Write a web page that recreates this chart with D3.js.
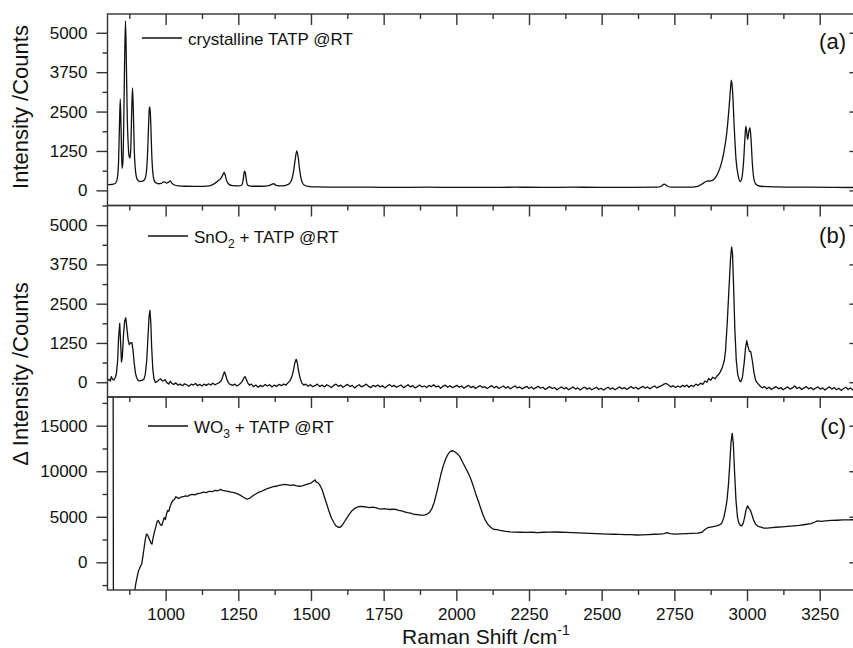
<!DOCTYPE html>
<html>
<head>
<meta charset="utf-8">
<script src="https://cdn.jsdelivr.net/npm/d3@7"></script>
<style>
  body { margin: 0; background: #fff; }
  text { font-family: "Liberation Sans", Arial, sans-serif; fill: #111; }
</style>
</head>
<body>
<div id="chart"></div>
<script>
// Raman spectra: [Raman shift (cm-1), counts]
var crystalTATP = [
  [800,180],[810,185],[820,195],[828,230],[834,400],[838,900],[841,2000],[844,2900],[847,1800],[850,700],
  [853,900],[856,2200],[859,4200],[862,5380],[865,4000],[868,2300],[871,1500],[874,1100],[877,1020],[880,1300],
  [883,2400],[886,3250],[889,2500],[892,1300],[896,650],[900,400],[905,310],[912,280],[920,290],[928,350],
  [934,600],[938,1200],[941,2000],[944,2600],[946,2650],[949,2100],[952,1200],[956,550],[960,330],[966,240],
  [975,210],[985,220],[993,270],[998,260],[1003,230],[1010,260],[1016,300],[1022,220],[1030,170],[1045,140],
  [1070,130],[1100,125],[1130,125],[1150,140],[1165,200],[1180,300],[1190,380],[1197,500],[1201,570],[1205,480],
  [1210,300],[1218,190],[1230,150],[1250,140],[1262,170],[1267,350],[1271,610],[1274,560],[1278,300],[1283,160],
  [1300,130],[1330,130],[1355,150],[1365,190],[1372,210],[1380,160],[1400,140],[1420,180],[1432,300],[1440,600],
  [1446,1000],[1451,1250],[1456,1050],[1461,650],[1467,330],[1475,180],[1490,130],[1520,110],[1600,100],[1700,100],
  [1800,95],[1900,100],[2000,95],[2100,95],[2200,100],[2300,95],[2400,100],[2500,95],[2600,95],[2690,100],
  [2705,130],[2715,200],[2725,140],[2740,100],[2800,100],[2830,130],[2850,230],[2862,295],[2875,300],[2890,390],
  [2900,550],[2910,800],[2920,1200],[2930,1800],[2938,2600],[2943,3200],[2946,3500],[2950,3200],[2955,2200],[2962,1000],
  [2970,450],[2976,280],[2982,380],[2988,900],[2993,1700],[2996,2040],[3000,1750],[3002,1620],[3006,1850],[3010,1990],
  [3014,1600],[3018,900],[3023,400],[3030,200],[3045,130],[3100,110],[3200,100],[3300,95],[3390,90]
];

var sno2TATP = [
  [800,60],[805,90],[810,40],[813,180],[817,100],[822,70],[827,150],[831,300],[835,700],[838,1400],
  [842,1870],[845,1300],[848,650],[851,800],[855,1500],[859,1950],[863,2050],[867,1700],[871,1350],[875,1200],
  [879,1250],[884,1260],[888,1000],[892,600],[896,300],[900,150],[905,60],[910,40],[918,60],[925,90],
  [930,250],[935,700],[939,1400],[943,2100],[946,2290],[949,1900],[952,1100],[956,400],[960,100],[965,-10],
  [970,20],[977,80],[983,110],[988,40],[993,50],[998,80],[1004,-10],[1010,-60],[1016,30],[1022,-40],
  [1028,-70],[1035,-20],[1042,-90],[1050,-60],[1058,-110],[1065,-50],[1072,-80],[1080,-130],[1088,-60],[1095,-90],
  [1103,-40],[1110,-110],[1118,-70],[1125,-120],[1132,-60],[1140,-100],[1148,-50],[1155,-90],[1162,-30],[1170,-80],
  [1178,-40],[1185,-10],[1192,60],[1197,200],[1202,330],[1206,250],[1210,100],[1216,-20],[1222,-70],[1230,-100],
  [1238,-60],[1245,-120],[1252,-80],[1258,-30],[1263,20],[1268,120],[1273,180],[1277,100],[1282,-10],[1288,-90],
  [1295,-60],[1302,-140],[1310,-90],[1318,-160],[1326,-100],[1334,-140],[1342,-70],[1350,-120],[1358,-80],[1366,-150],
  [1374,-90],[1382,-130],[1390,-70],[1398,-110],[1406,-60],[1414,-90],[1420,-30],[1428,50],[1435,200],[1440,400],
  [1445,640],[1449,730],[1453,620],[1457,380],[1462,150],[1468,-20],[1475,-90],[1482,-60],[1490,-130],[1498,-80],
  [1506,-140],[1514,-110],[1522,-60],[1530,-140],[1538,-90],[1546,-150],[1554,-80],[1562,-120],[1570,-170],[1578,-100],
  [1586,-60],[1594,-130],[1602,-90],[1610,-160],[1618,-110],[1626,-70],[1634,-140],[1642,-100],[1650,-180],[1658,-120],
  [1666,-80],[1674,-150],[1682,-110],[1690,-60],[1698,-130],[1706,-170],[1714,-100],[1722,-140],[1730,-90],[1738,-150],
  [1746,-110],[1754,-180],[1762,-120],[1770,-70],[1778,-140],[1786,-100],[1794,-160],[1802,-120],[1810,-90],[1818,-170],
  [1826,-130],[1834,-80],[1842,-150],[1850,-110],[1858,-180],[1866,-140],[1874,-90],[1882,-150],[1890,-120],[1898,-170],
  [1906,-100],[1914,-140],[1922,-80],[1930,-150],[1938,-120],[1946,-190],[1954,-130],[1962,-90],[1970,-160],[1978,-110],
  [1986,-170],[1994,-140],[2002,-100],[2010,-160],[2018,-120],[2026,-190],[2034,-140],[2042,-100],[2050,-170],[2058,-130],
  [2066,-200],[2074,-150],[2082,-110],[2090,-170],[2098,-140],[2106,-200],[2114,-150],[2122,-110],[2130,-180],[2138,-130],
  [2146,-200],[2154,-160],[2162,-120],[2170,-190],[2178,-140],[2186,-210],[2194,-160],[2202,-120],[2210,-180],[2218,-150],
  [2226,-210],[2234,-170],[2242,-130],[2250,-200],[2258,-150],[2266,-220],[2274,-170],[2282,-130],[2290,-190],[2298,-160],
  [2306,-230],[2314,-180],[2322,-140],[2330,-200],[2338,-170],[2346,-240],[2354,-190],[2362,-150],[2370,-210],[2378,-170],
  [2386,-240],[2394,-190],[2402,-150],[2410,-220],[2418,-180],[2426,-250],[2434,-190],[2442,-160],[2450,-220],[2458,-180],
  [2466,-240],[2474,-200],[2482,-160],[2490,-230],[2498,-190],[2506,-250],[2514,-200],[2522,-160],[2530,-220],[2538,-180],
  [2546,-240],[2554,-190],[2562,-150],[2570,-210],[2578,-170],[2586,-230],[2594,-180],[2602,-140],[2610,-200],[2618,-160],
  [2626,-220],[2634,-170],[2642,-130],[2650,-190],[2658,-150],[2666,-210],[2674,-160],[2682,-120],[2690,-180],[2698,-140],
  [2706,-110],[2714,-60],[2722,-40],[2730,-90],[2738,-150],[2746,-110],[2754,-170],[2762,-120],[2770,-160],[2778,-100],
  [2786,-140],[2794,-90],[2800,-160],[2808,-100],[2816,-140],[2824,-60],[2832,-100],[2840,-30],[2848,-70],[2855,40],
  [2862,0],[2868,120],[2875,60],[2882,160],[2890,110],[2897,200],[2905,280],[2912,400],[2918,560],[2922,700],
  [2926,1000],[2932,1900],[2938,3000],[2943,3900],[2947,4300],[2950,4100],[2954,3000],[2958,1700],[2963,700],[2968,250],
  [2974,50],[2979,20],[2984,150],[2990,600],[2995,1100],[2999,1320],[3003,1150],[3008,980],[3013,970],[3018,700],
  [3024,300],[3030,50],[3036,-30],[3045,-120],[3052,-180],[3060,-140],[3068,-210],[3076,-160],[3084,-230],[3092,-180],
  [3100,-140],[3108,-210],[3116,-170],[3124,-240],[3132,-190],[3140,-150],[3148,-220],[3156,-180],[3164,-120],[3172,-200],
  [3180,-160],[3188,-230],[3196,-180],[3204,-140],[3212,-210],[3220,-170],[3228,-240],[3236,-190],[3244,-150],[3252,-220],
  [3260,-180],[3268,-250],[3276,-190],[3284,-150],[3292,-220],[3300,-170],[3308,-240],[3316,-190],[3324,-260],[3332,-200],
  [3340,-160],[3348,-230],[3356,-180],[3364,-250],[3372,-190],[3380,-150],[3390,-210]
];

var wo3TATP = [
  [819,30000],[821,-20000],[885,-20000],[893,-3300],[897,-2400],[902,-1600],[907,-900],[910,-700],[914,-400],[918,-150],
  [922,700],[926,1600],[930,2500],[934,3100],[938,3000],[942,2700],[946,2400],[950,2100],[953,2000],[957,2700],
  [962,3400],[967,4000],[971,4500],[975,4600],[979,4300],[983,4100],[987,4050],[991,4500],[995,4900],[999,4700],
  [1003,5300],[1007,5700],[1011,5600],[1015,6100],[1020,6500],[1025,6800],[1030,6900],[1035,7200],[1040,7100],[1045,7000],
  [1052,7150],[1060,7200],[1068,7300],[1076,7250],[1084,7400],[1092,7450],[1100,7400],[1110,7550],[1120,7600],[1130,7700],
  [1140,7650],[1150,7800],[1160,7750],[1170,7900],[1180,7850],[1188,8000],[1196,7900],[1205,7850],[1215,7800],[1225,7700],
  [1235,7650],[1245,7550],[1255,7400],[1265,7200],[1275,7000],[1282,6950],[1290,7050],[1300,7300],[1310,7500],[1320,7700],
  [1330,7800],[1340,7950],[1350,8100],[1360,8200],[1370,8300],[1380,8350],[1390,8450],[1400,8500],[1410,8550],[1420,8500],
  [1430,8450],[1440,8500],[1450,8400],[1460,8350],[1470,8400],[1480,8500],[1490,8600],[1500,8700],[1508,8900],[1514,9050],
  [1518,8800],[1524,8750],[1530,8500],[1538,8000],[1546,7200],[1554,6400],[1562,5600],[1570,4900],[1578,4400],[1586,4000],
  [1594,3850],[1600,3850],[1606,4000],[1614,4400],[1622,4800],[1632,5300],[1642,5700],[1652,5950],[1662,6100],[1672,6150],
  [1682,6100],[1692,6050],[1702,6000],[1712,6050],[1722,6000],[1732,5900],[1742,5850],[1752,5900],[1762,5850],[1772,5800],
  [1782,5850],[1792,5800],[1802,5700],[1812,5650],[1822,5550],[1832,5450],[1842,5400],[1852,5300],[1862,5250],[1872,5200],
  [1882,5150],[1892,5200],[1900,5300],[1908,5500],[1916,5900],[1924,6600],[1932,7600],[1940,8700],[1948,9800],[1956,10700],
  [1964,11400],[1972,11900],[1980,12200],[1988,12250],[1996,12100],[2004,11900],[2012,11600],[2020,11100],[2028,10600],[2036,10100],
  [2044,9600],[2052,8950],[2060,8200],[2068,7400],[2076,6700],[2084,5900],[2092,5200],[2100,4600],[2108,4200],[2116,3900],
  [2124,3700],[2132,3600],[2140,3580],[2150,3500],[2160,3450],[2170,3400],[2185,3350],[2200,3320],[2220,3300],[2240,3280],
  [2260,3300],[2280,3270],[2300,3300],[2320,3320],[2340,3330],[2360,3300],[2380,3280],[2400,3250],[2420,3230],[2440,3200],
  [2460,3180],[2480,3150],[2500,3120],[2520,3100],[2540,3080],[2560,3060],[2580,3050],[2600,3030],[2620,3000],[2640,3020],
  [2660,3050],[2680,3080],[2700,3100],[2715,3150],[2725,3250],[2735,3150],[2750,3100],[2770,3120],[2790,3150],[2810,3170],
  [2830,3200],[2845,3300],[2855,3600],[2865,3800],[2880,3900],[2895,4000],[2905,4100],[2913,4300],[2920,4900],[2926,5800],
  [2931,6800],[2936,8500],[2941,11000],[2945,13200],[2949,14150],[2953,13000],[2957,10000],[2962,6800],[2967,5000],[2972,4300],
  [2977,4050],[2982,4000],[2987,4300],[2992,5000],[2997,5800],[3002,6200],[3007,5900],[3012,5700],[3017,5200],[3023,4600],
  [3030,4150],[3038,3950],[3048,3850],[3058,3750],[3070,3750],[3085,3800],[3100,3850],[3120,3900],[3140,3950],[3160,4000],
  [3180,4050],[3200,4150],[3220,4250],[3232,4400],[3242,4550],[3255,4500],[3270,4550],[3290,4600],[3310,4620],[3330,4650],
  [3350,4650],[3370,4680],[3390,4700]
];

// Axis ticks
var xMajorTicks = [1000, 1250, 1500, 1750, 2000, 2250, 2500, 2750, 3000, 3250];
var xMinorTicks = [875, 1125, 1375, 1625, 1875, 2125, 2375, 2625, 2875, 3125, 3375];
var yTicksAB = [0, 1250, 2500, 3750, 5000];
var yMinorAB = [625, 1875, 3125, 4375, 5625];
var yTicksC = [0, 5000, 10000, 15000];
var yMinorC = [-2500, 2500, 7500, 12500, 17500];

var panelLetters = ["(a)", "(b)", "(c)"];
var legendNames = [
  [["crystalline TATP @RT", 0]],
  [["SnO", 0], ["2", 1], [" + TATP @RT", 0]],
  [["WO", 0], ["3", 1], [" + TATP @RT", 0]]
];

var svgWidth = 853;
var svgHeight = 648;

var svg = d3.select("#chart")
  .append("svg")
  .attr("width", svgWidth)
  .attr("height", svgHeight);

var left = 107.5, right = 860.4;

var xScale = d3.scaleLinear()
  .domain([800, 3390])
  .range([left, right]);

// panel layout (top, bottom, y-domain)
var panels = [
  { data: crystalTATP, top: 14, bottom: 205.5, domain: [-480, 5595], ticks: yTicksAB, minor: yMinorAB, curve: d3.curveMonotoneX, legendY: 38, legendX: 142 },
  { data: sno2TATP, top: 205.5, bottom: 397, domain: [-470, 5625], ticks: yTicksAB, minor: yMinorAB, curve: d3.curveLinear, legendY: 236, legendX: 148 },
  { data: wo3TATP, top: 397, bottom: 590, domain: [-3040, 18150], ticks: yTicksC, minor: yMinorC, curve: d3.curveLinear, legendY: 426, legendX: 148 }
];
var letterBaselines = [49, 243, 434];

panels.forEach(function(p, i) {
  var yScale = d3.scaleLinear()
    .domain(p.domain)
    .range([p.bottom, p.top]);

  var g = svg.append("g").attr("class", "panel" + i);

  // clip the spectrum to the frame
  g.append("clipPath")
    .attr("id", "clip" + i)
    .append("rect")
    .attr("x", left)
    .attr("y", p.top)
    .attr("width", right - left)
    .attr("height", p.bottom - p.top);

  var line = d3.line()
    .x(d => xScale(d[0]))
    .y(d => yScale(d[1]))
    .curve(p.curve);

  g.append("path")
    .datum(p.data)
    .attr("clip-path", "url(#clip" + i + ")")
    .attr("fill", "none")
    .attr("stroke", "#111")
    .attr("stroke-width", 1.3)
    .attr("stroke-linejoin", "round")
    .attr("d", line);

  // top ticks (inward)
  [[xMajorTicks, 11], [xMinorTicks, 5]].forEach(function(t) {
    g.append("g")
      .attr("transform", `translate(0, ${p.top})`)
      .call(d3.axisBottom(xScale).tickValues(t[0]).tickSize(t[1]).tickFormat(""))
      .call(a => a.select(".domain").remove());
  });

  // left axis (outward) with labels
  g.append("g")
    .attr("class", "yaxis")
    .attr("transform", `translate(${left}, 0)`)
    .call(d3.axisLeft(yScale).tickValues(p.ticks).tickSize(11).tickPadding(9).tickFormat(d3.format("d")))
    .call(a => a.select(".domain").remove());
  g.append("g")
    .attr("transform", `translate(${left}, 0)`)
    .call(d3.axisLeft(yScale).tickValues(p.minor.filter(v => v <= p.domain[1])).tickSize(5).tickFormat(""))
    .call(a => a.select(".domain").remove());

  // right axis (inward)
  [[p.ticks, 11], [p.minor.filter(v => v <= p.domain[1]), 5]].forEach(function(t) {
    g.append("g")
      .attr("transform", `translate(${right}, 0)`)
      .call(d3.axisLeft(yScale).tickValues(t[0]).tickSize(t[1]).tickFormat(""))
      .call(a => a.select(".domain").remove());
  });

  // frame
  g.append("rect")
    .attr("x", left)
    .attr("y", p.top)
    .attr("width", right - left)
    .attr("height", p.bottom - p.top)
    .attr("fill", "none")
    .attr("stroke", "#333")
    .attr("stroke-width", 1.4);

  // legend
  g.append("line")
    .attr("x1", p.legendX)
    .attr("x2", p.legendX + 40)
    .attr("y1", p.legendY)
    .attr("y2", p.legendY)
    .attr("stroke", "#111")
    .attr("stroke-width", 1.3);

  var lt = g.append("text")
    .attr("x", p.legendX + 46)
    .attr("y", p.legendY + 6.5)
    .attr("font-size", "17px");
  legendNames[i].forEach(function(part, k) {
    var prev = k > 0 ? legendNames[i][k - 1][1] : 0;
    lt.append("tspan")
      .attr("font-size", part[1] ? "12px" : "17px")
      .attr("dy", part[1] ? 5.5 : (prev ? -5.5 : 0))
      .text(part[0]);
  });

  g.append("text")
    .attr("x", 846)
    .attr("y", letterBaselines[i])
    .attr("text-anchor", "end")
    .attr("font-size", "22px")
    .text(panelLetters[i]);
});

// bottom axis with labels
var bottom = panels[2].bottom;
svg.append("g")
  .attr("transform", `translate(0, ${bottom})`)
  .call(d3.axisBottom(xScale).tickValues(xMajorTicks).tickSize(11).tickPadding(7).tickFormat(d3.format("d")))
  .call(a => a.select(".domain").remove());
svg.append("g")
  .attr("transform", `translate(0, ${bottom})`)
  .call(d3.axisBottom(xScale).tickValues(xMinorTicks).tickSize(5).tickFormat(""))
  .call(a => a.select(".domain").remove());

svg.selectAll(".tick line")
  .attr("stroke", "#333")
  .attr("stroke-width", 1.4);
svg.selectAll(".tick text")
  .attr("font-size", "17px")
  .attr("font-family", "'Liberation Sans', Arial, sans-serif")
  .attr("fill", "#111");

// axis titles
var xTitle = svg.append("text")
  .attr("x", (left + right) / 2 + 2)
  .attr("y", 644)
  .attr("text-anchor", "middle")
  .attr("font-size", "21px");
xTitle.append("tspan").text("Raman Shift /cm");
xTitle.append("tspan").attr("font-size", "14px").attr("dy", -9).text("-1");

svg.append("text")
  .attr("transform", "translate(28, 107) rotate(-90)")
  .attr("text-anchor", "middle")
  .attr("font-size", "22px")
  .text("Intensity /Counts");

svg.append("text")
  .attr("transform", "translate(28, 374) rotate(-90)")
  .attr("text-anchor", "middle")
  .attr("font-size", "22px")
  .text("\u0394 Intensity /Counts");
</script>
</body>
</html>
